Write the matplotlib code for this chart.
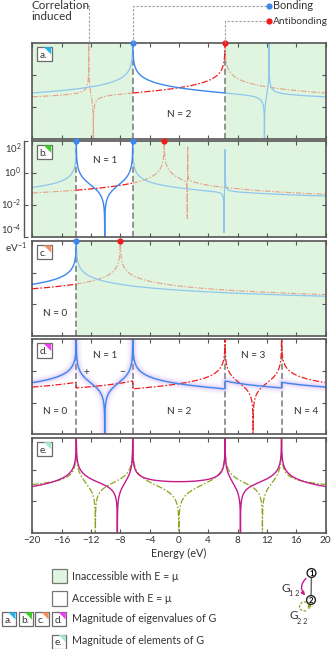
import numpy as np
import matplotlib.pyplot as plt
from matplotlib.patches import Rectangle, Polygon, Circle, FancyArrowPatch, Arc
from matplotlib.ticker import NullLocator

plt.rcParams['font.family'] = ['Lato', 'DejaVu Sans']

W, H = 331, 649

# chemical potentials where the ground state N changes (eV)
bounds = [-14.0, -6.3, 6.3, 14.0]

# eigenvalues of G for a fixed N: poles (eV) and weights
n2_bond_poles, n2_bond_w = [-6.3, 12.3], [1.0, 0.035]
n2_anti_poles, n2_anti_w = [-12.3, 6.3], [0.035, 1.0]
n1_bond_poles, n1_bond_w = [-14.0, -6.3, 6.3], [0.53, 0.52, 0.01]
n1_anti_poles, n1_anti_w = [-2.0, 1.2], [1.0, 0.02]
n0_bond_poles, n0_bond_w = [-14.0], [1.1]
n0_anti_poles, n0_anti_w = [-8.0], [1.15]

# elements of G
g12_poles, g12_w = [-14.0, -6.3, 6.3, 14.0], [0.55, 0.30, -0.30, -0.55]
g22_poles, g22_w = [-14.0, -6.3, 6.3, 14.0], [0.33, 0.45, 0.45, 0.33]

xticks = [-20, -16, -12, -8, -4, 0, 4, 8, 12, 16, 20]
ylabels = ['$\\mathregular{10^{-4}}$', '$\\mathregular{10^{-2}}$',
           '$\\mathregular{10^{0}}$', '$\\mathregular{10^{2}}$']

E = np.linspace(-20, 20, 40000)


def gmag(poles, weights, mirror=False):
    s = -1 if mirror else 1
    g = np.zeros_like(E)
    with np.errstate(divide='ignore'):
        for p, w in zip(poles, weights):
            g += w / (E - s * p)
    return np.clip(np.abs(g), 1e-7, 1e4)


blue = [gmag(n0_bond_poles, n0_bond_w), gmag(n1_bond_poles, n1_bond_w),
        gmag(n2_bond_poles, n2_bond_w), gmag(n1_anti_poles, n1_anti_w, True),
        gmag(n0_anti_poles, n0_anti_w, True)]
red = [gmag(n0_anti_poles, n0_anti_w), gmag(n1_anti_poles, n1_anti_w),
       gmag(n2_anti_poles, n2_anti_w), gmag(n1_bond_poles, n1_bond_w, True),
       gmag(n0_bond_poles, n0_bond_w, True)]

c_blue, c_blue_l = '#3c86ec', '#90c6ee'
c_red, c_red_l = '#f01c1c', '#e6a08c'
c_green = '#dff5df'
c_mag, c_olive = '#c41a8e', '#8aa41e'
dd = (5, 1.5, 1.3, 1.5)
frame = '#555555'
txt = '#333333'

fig = plt.figure(figsize=(W / 100, H / 100), dpi=100)

tops = [42.7, 141, 241, 339.3, 437.7]
hts = [96.3, 96, 95, 95, 95.6]
axes = []
for t, h in zip(tops, hts):
    ax = fig.add_axes([32.3 / W, 1 - (t + h) / H, 293.2 / W, h / H])
    ax.set_xlim(-20, 20)
    ax.set_yscale('log')
    ax.set_ylim(1e-4, 1e2)
    ax.set_xticks(xticks)
    ax.set_yticks([1e-2, 1])
    ax.yaxis.set_minor_locator(NullLocator())
    ax.tick_params(direction='in', top=True, right=True, length=3, width=0.8,
                   color=frame, labelleft=False, labelbottom=False)
    for s in ax.spines.values():
        s.set_color(frame)
        s.set_linewidth(1.2)
    axes.append(ax)

edges = [-20] + bounds + [20]


def fixed_panel(ax, N):
    lo, hi = edges[N], edges[N + 1]
    if lo > -20:
        ax.axvspan(-20, lo, color=c_green, lw=0, zorder=0)
    if hi < 20:
        ax.axvspan(hi, 20, color=c_green, lw=0, zorder=0)
    inside = (E >= lo) & (E <= hi)
    ax.plot(E, np.where(inside, np.nan, red[N]), color=c_red_l, lw=0.8, dashes=dd)
    ax.plot(E, np.where(inside, np.nan, blue[N]), color=c_blue_l, lw=0.9)
    ax.plot(E, np.where(inside, red[N], np.nan), color=c_red, lw=0.9, dashes=dd)
    ax.plot(E, np.where(inside, blue[N], np.nan), color=c_blue, lw=1.0)


fixed_panel(axes[0], 2)
fixed_panel(axes[1], 1)
fixed_panel(axes[2], 0)

# panel d: ground state N follows E = mu
nreg = np.searchsorted(bounds, E)
yb = np.choose(nreg, blue)
yr = np.choose(nreg, red)
ax = axes[3]
for lw, a in [(8, 0.05), (6, 0.07), (4, 0.1), (2.5, 0.14)]:
    ax.plot(E, yb, color='#b889f2', lw=lw, alpha=a, solid_capstyle='round')
ax.plot(E, yr, color=c_red, lw=0.9, dashes=dd)
ax.plot(E, yb, color=c_blue, lw=1.0)

# panel e: elements of G
ax = axes[4]
ax.plot(E, gmag(g22_poles, g22_w), color=c_olive, lw=0.9, dashes=dd)
ax.plot(E, gmag(g12_poles, g12_w), color=c_mag, lw=1.0)
ax.tick_params(labelbottom=True, labelsize=7.2, pad=2, labelcolor=txt)
ax.set_xlabel('Energy (eV)', fontsize=7.8, labelpad=2, color=txt)

# vertical dashed lines at the N boundaries
vlines = [[-6.3, 6.3], [-14.0, -6.3], [-14.0], bounds]
for ax, vs in zip(axes[:4], vlines):
    for v in vs:
        ax.axvline(v, color='#777777', lw=1.1, dashes=(4, 2), zorder=1)

# pole markers on the panel tops
dots = [[(-6.3, c_blue), (6.3, c_red)],
        [(-14.0, c_blue), (-6.3, c_blue), (-2.0, c_red)],
        [(-14.0, c_blue), (-8.0, c_red)]]
for ax, ds in zip(axes[:3], dots):
    for x, c in ds:
        ax.plot(x, 1e2, 'o', color=c, ms=4.5, mec='none', clip_on=False, zorder=6)

# N labels
tk = dict(fontsize=7.2, ha='center', va='center', color=txt)
axes[0].text(0, 10 ** -2.46, 'N = 2', **tk)
axes[1].text(-10.1, 10 ** 0.8, 'N = 1', **tk)
axes[2].text(-16.9, 10 ** -2.58, 'N = 0', **tk)
for x, y, s in [(-10.1, 0.96, 'N = 1'), (10.1, 0.96, 'N = 3'), (-16.9, -2.56, 'N = 0'),
                (0, -2.56, 'N = 2'), (17.4, -2.56, 'N = 4'), (-12.6, -0.08, '+'),
                (-7.7, -0.08, '\u2212')]:
    axes[3].text(x, 10 ** y, s, **tk)

# detached log axis beside panel b
axy = fig.add_axes([24 / W, 1 - (141 + 96) / H, 0.0001, 96 / H])
axy.set_yscale('log')
axy.set_ylim(1e-4, 1e2)
axy.set_yticks([1e-4, 1e-2, 1, 1e2], ylabels)
axy.yaxis.set_minor_locator(NullLocator())
axy.set_xticks([])
axy.patch.set_visible(False)
for k in ['top', 'right', 'bottom']:
    axy.spines[k].set_visible(False)
axy.spines['left'].set_color(frame)
axy.spines['left'].set_linewidth(1.0)
axy.tick_params(axis='y', direction='in', length=3, width=0.8, color=frame,
                labelsize=6.8, pad=2, labelcolor=txt)
for lbl, va in zip(axy.get_yticklabels(), ['bottom', 'center', 'center', 'top']):
    lbl.set_va(va)

# overlay in pixel units for decorations
ov = fig.add_axes([0, 0, 1, 1])
ov.set_xlim(0, W)
ov.set_ylim(H, 0)
ov.axis('off')
ov.patch.set_visible(False)


def ex(e):
    return 32.3 + (e + 20) * 293.2 / 40


def label_box(x, y, letter, color, s=14.5):
    ov.add_patch(Rectangle((x, y), s, s, fc='white', ec='#6a6a6a', lw=0.9, zorder=7))
    ov.add_patch(Polygon([(x + s - 0.6, y + 0.6), (x + s * 0.45, y + 0.6),
                          (x + s - 0.6, y + s * 0.55)], closed=True, fc=color, ec='none',
                         zorder=8))
    ov.text(x + 2.2, y + s - 1.2, letter, fontsize=7.2, ha='left', va='bottom',
            color=txt, zorder=9)


box_cols = {'a.': '#22b2ea', 'b.': '#3ccc2a', 'c.': '#f59060', 'd.': '#ee3cee',
            'e.': '#a6e8c8'}
for t, k in zip(tops, box_cols):
    label_box(37.3, t + 3.8, k, box_cols[k])

# annotations above panel a
ann = dict(color='#9a9a9a', lw=0.8, dashes=(2, 1.6))
ov.plot([ex(-6.3), ex(-6.3), 266], [43, 5.5, 5.5], **ann)
ov.plot([ex(6.3), ex(6.3), 266], [43, 21, 21], **ann)
ov.plot([83, ex(-12.3), ex(-12.3)], [5.5, 5.5, 43], **ann)
ov.plot(269, 5.5, 'o', color=c_blue, ms=4.5, mec='none')
ov.plot(269, 21, 'o', color=c_red, ms=4.5, mec='none')
ov.text(273, 5.5, 'Bonding', fontsize=7.8, va='center', color=txt)
ov.text(273, 21, 'Antibonding', fontsize=7.3, va='center', color=txt)
ov.text(31, 11, 'Correlation\ninduced', fontsize=8.4, va='center', ha='left',
        color=txt, linespacing=1.05)

ov.text(16, 248, '$\\mathregular{eV^{-1}}$', fontsize=7.2, ha='center', va='center',
        color=txt)

# legend
ov.add_patch(Rectangle((52.3, 568.5), 14.5, 14.5, fc=c_green, ec='#777777', lw=0.9))
ov.add_patch(Rectangle((52.3, 591), 14.5, 14.5, fc='white', ec='#777777', lw=0.9))
for x, k in zip([2, 18.6, 35.2, 52.3], ['a.', 'b.', 'c.', 'd.']):
    label_box(x, 611.8, k, box_cols[k], s=14)
label_box(52.3, 634.5, 'e.', box_cols['e.'], s=14)
lt = dict(fontsize=7.7, va='center', ha='left', color=txt)
ov.text(72.5, 576.5, 'Inaccessible with E = \u03bc', **lt)
ov.text(72.5, 598, 'Accessible with E = \u03bc', **lt)
ov.text(72.5, 619, 'Magnitude of eigenvalues of G', **lt)
ov.text(72.5, 641, 'Magnitude of elements of G', **lt)

# two-site diagram
ov.plot([311.4, 311.1], [577.5, 595.5], color='#666666', lw=1.0)
for (cx, cy), n in [((311.5, 573), '1'), ((311, 600), '2')]:
    ov.add_patch(Circle((cx, cy), 4.4, fc='white', ec='#222222', lw=1.0, zorder=5))
    ov.text(cx, cy + 0.3, n, fontsize=5.5, ha='center', va='center', zorder=6,
            fontweight='bold')
ov.add_patch(FancyArrowPatch((308, 576.5), (307, 597.5), connectionstyle='arc3,rad=0.55',
                             arrowstyle='-|>', mutation_scale=5, color=c_mag, lw=1.0))
ov.add_patch(Arc((304.5, 606.5), 10, 9, theta1=70, theta2=390, color=c_olive, lw=0.9,
                 ls=(0, (2, 1.2))))
ov.annotate('', xy=(308.2, 603), xytext=(309.3, 606),
            arrowprops=dict(arrowstyle='-|>', color=c_olive, lw=0.8, mutation_scale=5))
ov.text(281.5, 588.5, 'G', fontsize=8.5, va='center', ha='left', color=txt)
ov.text(288.8, 593, '1 2', fontsize=5.2, va='center', ha='left', color=txt)
ov.text(289.5, 615.5, 'G', fontsize=8.5, va='center', ha='left', color=txt)
ov.text(296.8, 621, '2 2', fontsize=5.2, va='center', ha='left', color=txt)

fig.savefig('out.png', dpi=100)
